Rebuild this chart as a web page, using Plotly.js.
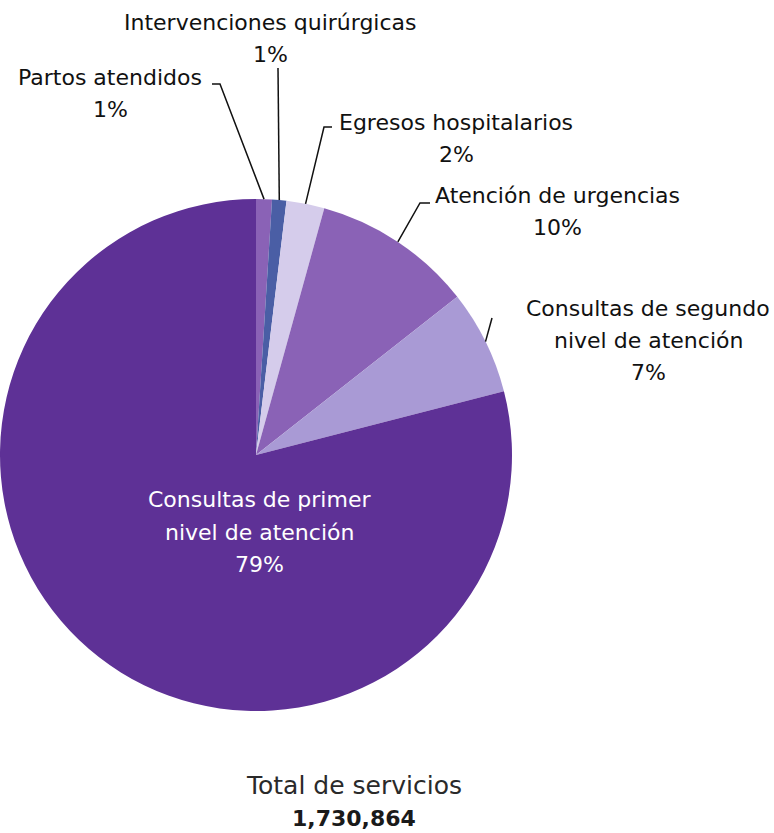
<!DOCTYPE html>
<html>
<head>
<meta charset="utf-8">
<script src="https://cdn.plot.ly/plotly-3.0.1.min.js"></script>
<style>html,body{margin:0;padding:0;background:#fff;}#chart{width:774px;height:833px;}</style>
</head>
<body>
<div id="chart"></div>
<script>
// Data (order clockwise from 12 o'clock)
const labels = ["Partos atendidos", "Intervenciones quirúrgicas", "Egresos hospitalarios", "Atención de urgencias", "Consultas de segundo nivel de atención", "Consultas de primer nivel de atención"];
const labelLines = [["Partos atendidos"], ["Intervenciones quirúrgicas"], ["Egresos hospitalarios"], ["Atención de urgencias"], ["Consultas de segundo", "nivel de atención"], ["Consultas de primer", "nivel de atención"]];
const values = [17300, 15600, 41500, 174800, 114200, 1367464];
const colors = ["#8A62B6", "#4A5EA5", "#D5CCEB", "#8A62B6", "#A99AD5", "#5E3196"];
const totalTitle = "Total de servicios";
const totalValue = "1,730,864";

// Layout helpers (pixel -> paper)
const W = 774, H = 833;
const cx = 256, cy = 455, R = 256;
const px = x => x / W;
const py = y => 1 - y / H;

const total = values.reduce((a, b) => a + b, 0);
const pct = values.map(v => Math.round(v / total * 100) + "%");

// label placement (style): centre x, first line y, leader elbow and end
const place = [
  {x: 110, y: 77, elbow: [220, 84], end: [212, 84]},
  {x: 270, y: 22, elbow: [278, 68], end: null},
  {x: 456, y: 122, elbow: [324, 127], end: [332, 127]},
  {x: 557, y: 195, elbow: [420, 203], end: [430, 203]},
  {x: 648, y: 308, elbow: [492, 318], end: null},
  {x: 259, y: 500, elbow: null, end: null}
];
const lineGap = 32;
const txtColor = "#111111";
const fontFam = "DejaVu Sans, sans-serif";

const annotations = [];
const shapes = [];
let cum = 0;
values.forEach((v, i) => {
  const mid = (cum + v / 2) / total * 2 * Math.PI;
  cum += v;
  const p = place[i];
  const isInside = i === 5;
  const col = isInside ? "#ffffff" : txtColor;
  const lines = labelLines[i].concat([pct[i]]);
  lines.forEach((t, k) => {
    annotations.push({
      x: px(p.x), y: py(p.y + k * lineGap), xref: "paper", yref: "paper",
      text: t, showarrow: false, xanchor: "center", yanchor: "middle",
      font: {family: fontFam, size: 22, color: col}
    });
  });
  if (p.elbow) {
    const tx = cx + R * Math.sin(mid), ty = cy - R * Math.cos(mid);
    let path = `M ${px(tx)},${py(ty)} L ${px(p.elbow[0])},${py(p.elbow[1])}`;
    if (p.end) path += ` L ${px(p.end[0])},${py(p.end[1])}`;
    shapes.push({type: "path", xref: "paper", yref: "paper", path: path,
      line: {color: "#111111", width: 1.5}});
  }
});

annotations.push({x: px(354), y: py(785), xref: "paper", yref: "paper", text: totalTitle,
  showarrow: false, xanchor: "center", yanchor: "middle",
  font: {family: fontFam, size: 25, color: "#2a2a2a"}});
annotations.push({x: px(354), y: py(818), xref: "paper", yref: "paper", text: "<b>" + totalValue + "</b>",
  showarrow: false, xanchor: "center", yanchor: "middle",
  font: {family: fontFam, size: 22, color: "#1a1a1a"}});

const trace = {
  type: "pie",
  labels: labels,
  values: values,
  sort: false,
  direction: "clockwise",
  rotation: 0,
  marker: {colors: colors, line: {width: 0}},
  textinfo: "none",
  hoverinfo: "none",
  showlegend: false,
  domain: {x: [px(cx - R), px(cx + R)], y: [py(cy + R), py(cy - R)]}
};

Plotly.newPlot("chart", [trace], {
  width: W, height: H,
  margin: {l: 0, r: 0, t: 0, b: 0},
  paper_bgcolor: "#ffffff",
  showlegend: false,
  annotations: annotations,
  shapes: shapes
}, {displayModeBar: false, staticPlot: true});
</script>
</body>
</html>
